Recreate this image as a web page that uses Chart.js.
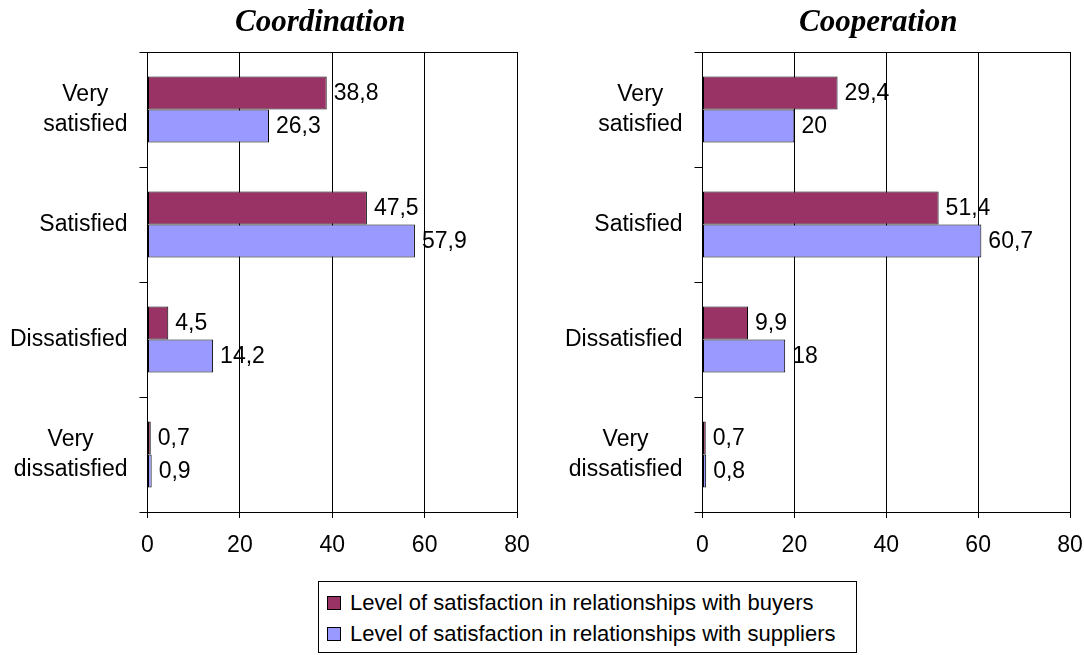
<!DOCTYPE html>
<html>
<head>
<meta charset="utf-8">
<script src="https://cdn.jsdelivr.net/npm/chart.js@4.4.1/dist/chart.umd.min.js"></script>
<style>
  body { margin: 0; background: #fff; width: 1084px; height: 655px; overflow: hidden; position: relative; }
  canvas { position: absolute; top: 0; }
  #legend {
    position: absolute; left: 318px; top: 581px; width: 537px; height: 70px;
    border: 1px solid #000; font: 22px "Liberation Sans", Arial, sans-serif; color: #000;
  }
  #legend div { position: absolute; left: 8px; height: 30px; line-height: 30px; white-space: nowrap; }
  #legend span.box { display: inline-block; width: 12px; height: 12px; border: 1px solid #000; margin-right: 9px; vertical-align: 0px; }
</style>
</head>
<body>
<canvas id="coord" width="545" height="580" style="left:0"></canvas>
<canvas id="coop" width="545" height="580" style="left:555px"></canvas>
<div id="legend"></div>
<script>
// satisfaction levels (top to bottom)
var categories = [['Very', 'satisfied'], ['Satisfied'], ['Dissatisfied'], ['Very', 'dissatisfied']];
var seriesNames = ['Level of satisfaction in relationships with buyers',
                   'Level of satisfaction in relationships with suppliers'];
var seriesColors = ['#993366', '#9999FF'];

var coordBuyers = [38.8, 47.5, 4.5, 0.7];
var coordSuppliers = [26.3, 57.9, 14.2, 0.9];
var coopBuyers = [29.4, 51.4, 9.9, 0.7];
var coopSuppliers = [20, 60.7, 18, 0.8];

var xTicks = [0, 20, 40, 60, 80];

Chart.defaults.font.family = '"Liberation Sans", Arial, sans-serif';
Chart.defaults.font.size = 23;
Chart.defaults.color = '#000';

function fmt(v) { return String(v).replace('.', ','); }

// title, top frame line, centred category labels and value labels
var panelDecor = {
  id: 'panelDecor',
  afterDraw: function (chart, args, opts) {
    var ctx = chart.ctx, a = chart.chartArea, y = chart.scales.y;
    ctx.save();
    ctx.strokeStyle = '#000';
    ctx.lineWidth = 1;
    ctx.beginPath();
    ctx.moveTo(a.left, Math.round(a.top) + 0.5);
    ctx.lineTo(a.right, Math.round(a.top) + 0.5);
    ctx.stroke();

    ctx.fillStyle = '#000';
    ctx.font = 'italic bold 31px "Liberation Serif", "Times New Roman", serif';
    ctx.textAlign = 'center';
    ctx.textBaseline = 'middle';
    ctx.fillText(opts.title, (a.left + a.right) / 2 + opts.shift, 23);

    ctx.font = '23px "Liberation Sans", Arial, sans-serif';
    chart.data.labels.forEach(function (lab, i) {
      var lines = [].concat(lab);
      var w = Math.max.apply(null, lines.map(function (s) { return ctx.measureText(s).width; }));
      var cx = a.left - 20 - w / 2;
      var cy = y.getPixelForTick(i);
      lines.forEach(function (s, j) {
        ctx.fillText(s, cx, cy + (j - (lines.length - 1) / 2) * 30);
      });
    });

    ctx.textAlign = 'left';
    chart.data.datasets.forEach(function (ds, di) {
      chart.getDatasetMeta(di).data.forEach(function (bar, i) {
        ctx.fillText(fmt(ds.data[i]), bar.x + 7, bar.y + 1);
      });
    });
    ctx.restore();
  }
};

function makeChart(id, title, shift, buyers, suppliers, padRight) {
  return new Chart(document.getElementById(id), {
    type: 'bar',
    data: {
      labels: categories,
      datasets: [
        { label: seriesNames[0], data: buyers, backgroundColor: seriesColors[0] },
        { label: seriesNames[1], data: suppliers, backgroundColor: seriesColors[1] }
      ]
    },
    options: {
      indexAxis: 'y',
      responsive: false,
      animation: false,
      layout: { padding: { top: 52, right: padRight, left: 0, bottom: 0 } },
      datasets: {
        bar: { borderColor: '#000', borderWidth: 1, borderSkipped: false,
               barPercentage: 1, categoryPercentage: 0.574 }
      },
      scales: {
        x: {
          min: 0, max: 80,
          afterBuildTicks: function (s) { s.ticks = xTicks.map(function (v) { return { value: v }; }); },
          grid: { color: '#000', lineWidth: 1, tickLength: 6 },
          border: { color: '#000', width: 1 },
          ticks: { padding: 14, maxRotation: 0 },
          afterFit: function (s) { s.height = 68; }
        },
        y: {
          grid: { drawOnChartArea: false, color: '#000', tickLength: 8, offset: true },
          border: { color: '#000', width: 1 },
          ticks: { display: false },
          afterFit: function (s) { s.width = 147.5; }
        }
      },
      plugins: {
        legend: { display: false },
        tooltip: { enabled: false },
        panelDecor: { title: title, shift: shift }
      }
    },
    plugins: [panelDecor]
  });
}

makeChart('coord', 'Coordination', -12, coordBuyers, coordSuppliers, 28);
makeChart('coop', 'Cooperation', -8, coopBuyers, coopSuppliers, 30);

// legend rows
var legend = document.getElementById('legend');
seriesNames.forEach(function (name, i) {
  var row = document.createElement('div');
  row.style.top = (6 + i * 31) + 'px';
  var box = document.createElement('span');
  box.className = 'box';
  box.style.background = seriesColors[i];
  row.appendChild(box);
  row.appendChild(document.createTextNode(name));
  legend.appendChild(row);
});
</script>
</body>
</html>
